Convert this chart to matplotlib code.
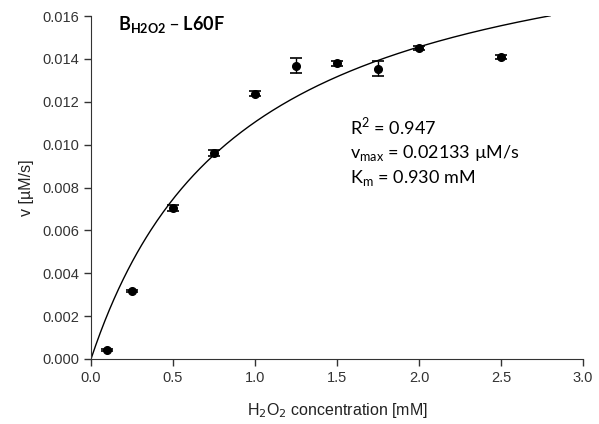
import matplotlib.pyplot as plt
import numpy as np

# measured rates
conc = [0.1, 0.25, 0.5, 0.75, 1.0, 1.25, 1.5, 1.75, 2.0, 2.5]
rate = [0.00042, 0.00316, 0.00706, 0.00960, 0.01238, 0.01368, 0.01380, 0.01354, 0.01452, 0.01410]
rate_err = [0.00006, 0.00005, 0.00014, 0.00014, 0.00012, 0.00034, 0.00012, 0.00036, 0.00009, 0.00009]

# Michaelis-Menten fit parameters
vmax = 0.02133
km = 0.930
fit_end = 2.8

xticks = [0.0, 0.5, 1.0, 1.5, 2.0, 2.5, 3.0]
yticks = [0.000, 0.002, 0.004, 0.006, 0.008, 0.010, 0.012, 0.014, 0.016]

plt.rcParams['font.family'] = ['Liberation Sans', 'DejaVu Sans']

fig = plt.figure(figsize=(5.99, 4.24), dpi=100)
ax = fig.add_axes([91 / 599, 1 - 359 / 424, (583 - 91) / 599, (359 - 16) / 424])

s = np.linspace(0, fit_end, 300)
ax.plot(s, vmax * s / (km + s), color="black", lw=1.0)

ax.errorbar(conc, rate, yerr=rate_err, fmt="o", color="black", ms=5.5,
            capsize=4.5, elinewidth=1, capthick=1.2)

ax.set_xlim(0, 3.0)
ax.set_ylim(0, 0.016)
ax.set_xticks(xticks)
ax.set_yticks(yticks)
ax.set_xticklabels([f"{t:.1f}" for t in xticks])
ax.set_yticklabels([f"{t:.3f}" for t in yticks])
ax.tick_params(labelsize=10.5, length=5, width=1, color="#333333", labelcolor="#333333")
for side in ["top", "right"]:
    ax.spines[side].set_visible(False)
for side in ["left", "bottom"]:
    ax.spines[side].set_color("#333333")

ax.set_xlabel("H$_2$O$_2$ concentration [mM]", fontsize=11.5, color="#222222", labelpad=12)
ax.set_ylabel("v [µM/s]", fontsize=11.5, color="#222222", labelpad=6)

ax.text(0.055, 0.975, r"B$_{\mathregular{H2O2}}$ – L60F", transform=ax.transAxes,
        fontsize=13, fontweight="bold", family="Lato", va="center")
ax.text(0.526, 0.71, "R$^{\\mathregular{2}}$ = 0.947\nv$_{\\mathregular{max}}$ = 0.02133 µM/s\n"
        "K$_{\\mathregular{m}}$ = 0.930 mM", transform=ax.transAxes,
        fontsize=13, family="Lato", va="top", linespacing=1.35)

fig.savefig("out.png", dpi=100)
